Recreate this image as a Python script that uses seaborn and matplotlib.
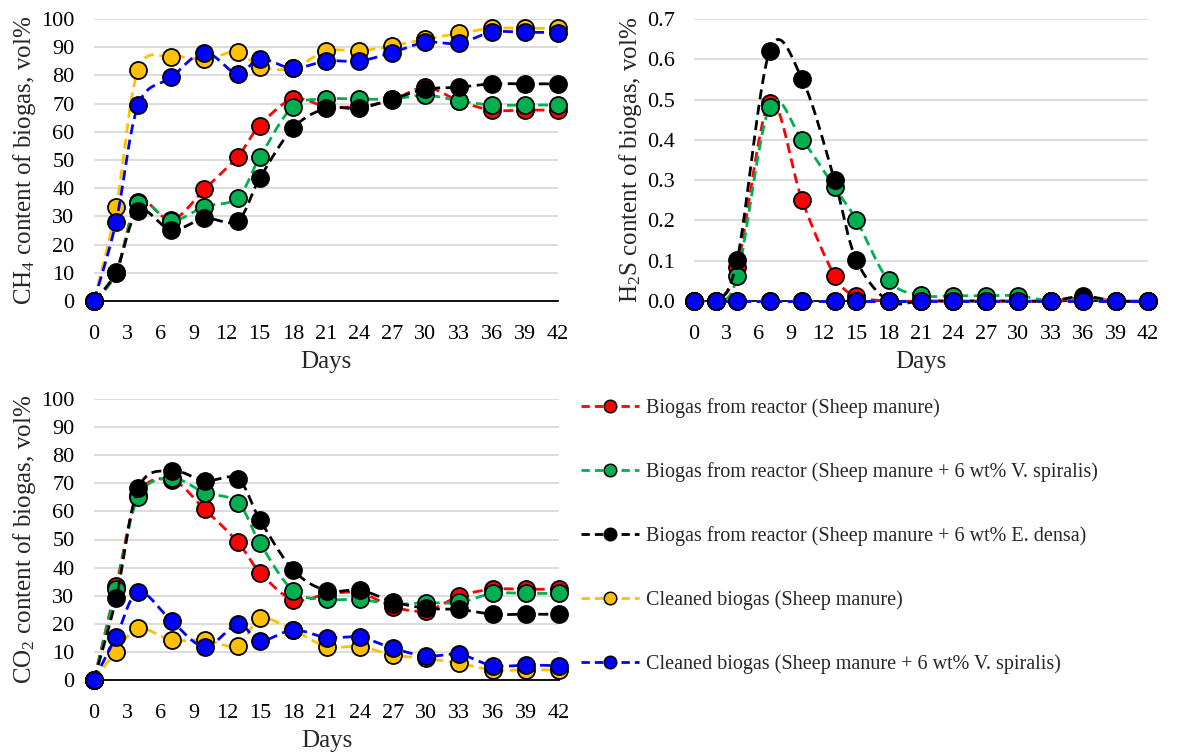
import numpy as np
import matplotlib
matplotlib.use("Agg")
import matplotlib.pyplot as plt
from matplotlib.lines import Line2D
import seaborn as sns

# ---------------- data ----------------
days = [0, 2, 4, 7, 10, 13, 15, 18, 21, 24, 27, 30, 33, 36, 39, 42]

series_labels = [
    "Biogas from reactor (Sheep manure)",
    "Biogas from reactor (Sheep manure + 6 wt% V. spiralis)",
    "Biogas from reactor (Sheep manure + 6 wt% E. densa)",
    "Cleaned biogas (Sheep manure)",
    "Cleaned biogas (Sheep manure + 6 wt% V. spiralis)",
]
series_colors = ["#FF0000", "#00B050", "#000000", "#FFC000", "#0000FF"]

ch4_red    = [0, 10.0, 35.2, 28.7, 39.6, 51.2, 62.2, 71.6, 69.0, 69.0, 71.3, 75.8, 71.0, 67.7, 67.7, 67.7]
ch4_green  = [0, 10.0, 34.6, 28.5, 33.5, 36.6, 50.9, 68.9, 71.6, 71.6, 71.6, 73.0, 71.0, 69.5, 69.5, 69.5]
ch4_black  = [0, 10.4, 32.0, 25.2, 29.3, 28.5, 43.5, 61.2, 68.3, 68.3, 71.6, 75.1, 75.8, 77.0, 77.0, 77.0]
ch4_yellow = [0, 33.2, 81.9, 86.6, 85.7, 88.4, 83.1, 82.5, 88.7, 88.7, 90.5, 92.8, 94.9, 96.7, 96.7, 96.7]
ch4_blue   = [0, 28.1, 69.4, 79.3, 88.1, 80.5, 85.9, 82.5, 85.1, 85.1, 88.1, 91.7, 91.4, 95.3, 95.3, 95.2]

h2s_red    = [0, 0, 0.085, 0.492, 0.250, 0.063, 0.012, 0, 0, 0, 0, 0, 0, 0.008, 0, 0]
h2s_green  = [0, 0, 0.061, 0.482, 0.400, 0.282, 0.202, 0.051, 0.014, 0.013, 0.013, 0.013, 0, 0.004, 0, 0]
h2s_black  = [0, 0, 0.103, 0.621, 0.551, 0.300, 0.103, 0, 0, 0, 0, 0, 0, 0.012, 0, 0]
h2s_yellow = [0, 0, 0, 0, 0, 0, 0, 0, 0, 0, 0, 0, 0, 0, 0, 0]
h2s_blue   = [0, 0, 0, 0, 0, 0, 0, 0, 0, 0, 0, 0, 0, 0, 0, 0]

co2_red    = [0, 33.5, 66.0, 71.2, 60.7, 49.0, 38.2, 28.5, 30.5, 31.0, 26.1, 24.6, 29.9, 32.3, 32.3, 32.3]
co2_green  = [0, 32.3, 65.2, 71.8, 66.7, 63.1, 48.6, 31.7, 28.7, 28.7, 27.0, 27.5, 27.6, 30.8, 30.8, 30.8]
co2_black  = [0, 29.1, 68.2, 74.5, 70.9, 71.5, 56.9, 39.1, 31.8, 32.0, 27.9, 25.5, 25.1, 23.4, 23.4, 23.4]
co2_yellow = [0, 10.1, 18.4, 14.2, 14.2, 12.2, 21.9, 17.8, 11.9, 11.9, 8.9, 7.7, 5.9, 3.6, 3.6, 3.6]
co2_blue   = [0, 15.4, 31.3, 21.0, 11.9, 19.8, 14.0, 17.8, 15.1, 15.2, 11.3, 8.5, 9.1, 5.1, 5.3, 5.1]

x_ticks = list(range(0, 43, 3))

# ---------------- style ----------------
sns.set_style("white")
plt.rcParams["font.family"] = ["Liberation Serif", "DejaVu Serif"]
plt.rcParams["mathtext.fontset"] = "custom"
plt.rcParams["mathtext.rm"] = "Liberation Serif"
plt.rcParams["mathtext.it"] = "Liberation Serif:italic"

TICK_FS = 16
TITLE_FS = 18
LEG_FS = 14.5
GRID = "#D9D9D9"


def excel_smooth(x, y, sx, sy, n=24):
    """Excel-like smoothed line (Bezier with 1/6 tangents) in scaled space."""
    X = np.asarray(x, float) * sx
    Y = np.asarray(y, float) * sy
    P = np.column_stack([X, Y])
    Pp = np.vstack([P[0], P, P[-1]])
    out = []
    t = np.linspace(0, 1, n)[:, None]
    for i in range(len(P) - 1):
        p0, p1, p2, p3 = Pp[i], Pp[i + 1], Pp[i + 2], Pp[i + 3]
        c1 = p1 + (p2 - p0) / 6.0
        c2 = p2 - (p3 - p1) / 6.0
        seg = ((1 - t) ** 3) * p1 + 3 * ((1 - t) ** 2) * t * c1 + 3 * (1 - t) * t ** 2 * c2 + t ** 3 * p2
        out.append(seg if i == 0 else seg[1:])
    out = np.vstack(out)
    return out[:, 0] / sx, out[:, 1] / sy


fig = plt.figure(figsize=(11.85, 7.52), dpi=100)

ax_ch4 = fig.add_axes([94 / 1185, 1 - 301 / 752, 464 / 1185, 282 / 752])
ax_h2s = fig.add_axes([694 / 1185, 1 - 301 / 752, 454 / 1185, 282 / 752])
ax_co2 = fig.add_axes([94 / 1185, 1 - 680 / 752, 465 / 1185, 281 / 752])


def draw(ax, data, ymax, ystep, ylabel, yfmt):
    ax.set_xlim(0, 42)
    ax.set_ylim(0, ymax)
    bbox = ax.get_position()
    W = bbox.width * 1185
    H = bbox.height * 752
    for i, vals in enumerate(data):
        c = series_colors[i]
        xs, ys = excel_smooth(days, vals, W / 42.0, H / ymax)
        sns.lineplot(x=xs, y=ys, ax=ax, color=c, linewidth=2.0, sort=False,
                     estimator=None, linestyle=(0, (3.6, 2.0)),
                     zorder=3 + i * 0.1, clip_on=False)
        sns.scatterplot(x=days, y=vals, ax=ax, color=c, edgecolor="black",
                        linewidth=1.3, s=150, zorder=3.05 + i * 0.1,
                        clip_on=False, legend=False)
    ax.set_xticks(x_ticks)
    yt = np.arange(0, ymax + ystep / 2, ystep)
    ax.set_yticks(yt)
    ax.set_yticklabels([yfmt.format(v) for v in yt])
    ax.grid(axis="y", color=GRID, linewidth=1.3, zorder=0)
    ax.grid(axis="x", visible=False)
    ax.set_axisbelow(True)
    for s in ["left", "right", "top"]:
        ax.spines[s].set_visible(False)
    ax.spines["bottom"].set_color("black")
    ax.spines["bottom"].set_linewidth(1.3)
    ax.spines["bottom"].set_zorder(2.5)
    ax.tick_params(axis="both", length=0, labelsize=TICK_FS, colors="black")
    ax.tick_params(axis="y", pad=14)
    ax.tick_params(axis="x", pad=17.5)
    ax.set_xlabel("Days", fontsize=TITLE_FS, labelpad=5)
    ax.set_ylabel(ylabel, fontsize=TITLE_FS, labelpad=2)


draw(ax_ch4, [ch4_red, ch4_green, ch4_black, ch4_yellow, ch4_blue], 100, 10,
     r"CH$_4$ content of biogas, vol%", "{:.0f}")
draw(ax_h2s, [h2s_red, h2s_green, h2s_black, h2s_yellow, h2s_blue], 0.7, 0.1,
     r"H$_2$S content of biogas, vol%", "{:.1f}")
draw(ax_co2, [co2_red, co2_green, co2_black, co2_yellow, co2_blue], 100, 10,
     r"CO$_2$ content of biogas, vol%", "{:.0f}")

handles = [Line2D([0], [0], color=c, linestyle=(0, (3.0, 1.8)), linewidth=2.0,
                  marker="o", markersize=9, markerfacecolor=c,
                  markeredgecolor="black", markeredgewidth=1.1)
           for c in series_colors]
fig.legend(handles, series_labels, loc="center left",
           bbox_to_anchor=(571 / 1185, 1 - 536 / 752), frameon=False,
           fontsize=LEG_FS, handlelength=2.9, handletextpad=0.3, labelspacing=2.2,
           borderpad=0)

fig.savefig("out.png", dpi=100)
